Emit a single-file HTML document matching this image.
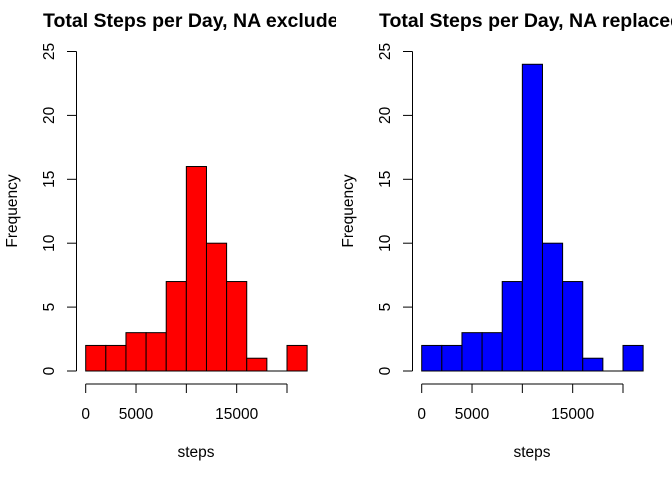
<!DOCTYPE html>
<html><head><meta charset="utf-8"><style>
html,body{margin:0;padding:0;background:#fff;}
svg{display:block;font-family:"Liberation Sans",Arial,sans-serif;}
</style></head><body>
<svg id="chart" width="672" height="480" viewBox="0 0 672 480"></svg>
<script>
const binStarts = [0,2000,4000,6000,8000,10000,12000,14000,16000,18000,20000];
const binWidth = 2000;
const countsExcluded = [2,2,3,3,7,16,10,7,1,0,2];
const countsReplaced = [2,2,3,3,7,24,10,7,1,0,2];
const xTicks = [0,5000,10000,15000,20000];
const xTickLabels = ["0","5000","","15000",""];
const yTicks = [0,5,10,15,20,25];
const titles = ["Total Steps per Day, NA exclude","Total Steps per Day, NA replaced"];
const colors = ["#ff0000","#0000ff"];

const NS = "http://www.w3.org/2000/svg";
const svg = document.getElementById('chart');
function mk(tag, attrs, parent){const e=document.createElementNS(NS,tag);for(const k in attrs)e.setAttribute(k,attrs[k]);parent.appendChild(e);return e;}

function panel(idx, counts){
  const off = idx*336;
  const g = mk('g',{},svg);
  
  
  const cp = mk('clipPath',{id:'cp'+idx},g);
  mk('rect',{x:off,y:0,width:336,height:480},cp);
  const xs = v => off + 85.7 + v*(201.3/20000);
  const ys = v => 371 - v*(319.5/25);
  const t = mk('text',{x:off+43,y:27,'font-size':'19.5','font-weight':'bold','clip-path':'url(#cp'+idx+')'},g);
  t.textContent = titles[idx];
  
  
  binStarts.forEach((b,i)=>{
    const x0=xs(b), x1=xs(b+binWidth), y=ys(counts[i]);
    if(counts[i]===0){
      const l = mk('line',{x1:x0,y1:y,x2:x1,y2:y,stroke:'#000','stroke-width':1},g);
      
      
      return;
    }
    const r = mk('rect',{x:x0,y:y,width:x1-x0,height:ys(0)-y,fill:colors[idx],stroke:'#000','stroke-width':1},g);
    
    
  });
  const ya = mk('g',{stroke:'#000','stroke-width':1},g);
  
  
  mk('line',{x1:off+76.5,y1:ys(0),x2:off+76.5,y2:ys(25)},ya);
  yTicks.forEach(v=>{
    mk('line',{x1:off+67,y1:ys(v),x2:off+76.5,y2:ys(v)},ya);
    const tx = mk('text',{x:0,y:0,'font-size':'15.5',fill:'#000',stroke:'none','text-anchor':'middle',transform:`translate(${off+54},${ys(v)}) rotate(-90)`},g);
    tx.textContent = String(v);
    
    
  });
  const yt = mk('text',{x:0,y:0,'font-size':'15.5','text-anchor':'middle',transform:`translate(${off+17},${211}) rotate(-90)`},g);
  yt.textContent='Frequency';
  
  
  const xa = mk('g',{stroke:'#000','stroke-width':1},g);
  
  
  mk('line',{x1:xs(xTicks[0]),y1:384,x2:xs(xTicks[xTicks.length-1]),y2:384},xa);
  xTicks.forEach((v,i)=>{
    mk('line',{x1:xs(v),y1:384,x2:xs(v),y2:393},xa);
    if(xTickLabels[i]){
      const tx = mk('text',{x:xs(v),y:419,'font-size':'15.5','text-anchor':'middle'},g);
      tx.textContent = xTickLabels[i];
      
      
    }
  });
  const xt = mk('text',{x:off+196,y:457,'font-size':'15.5','text-anchor':'middle'},g);
  xt.textContent='steps';
  
  
}
panel(0,countsExcluded);
panel(1,countsReplaced);
</script>
</body></html>
